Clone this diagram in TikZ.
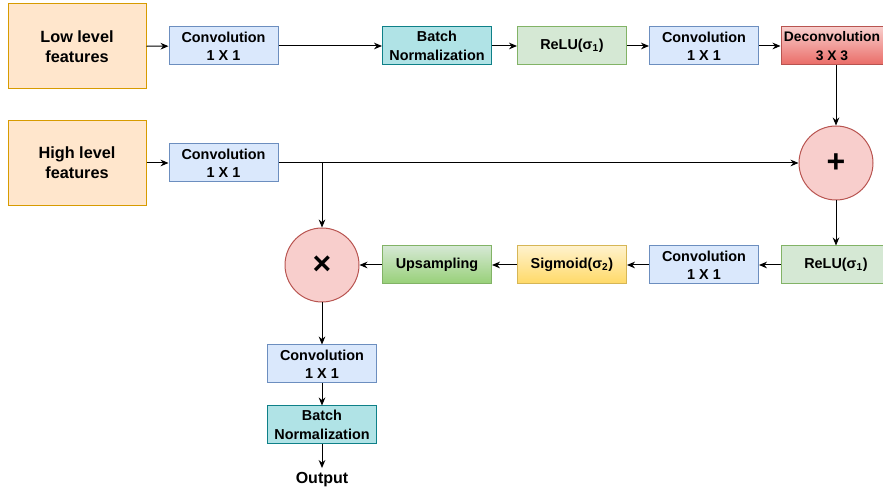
\documentclass[tikz,border=0pt]{standalone}
\usepackage{fontspec}
\setmainfont{Liberation Sans}
\usetikzlibrary{arrows.meta}
\definecolor{inFill}{HTML}{FFE6CC}
\definecolor{inLine}{HTML}{D79B00}
\definecolor{convFill}{HTML}{DAE8FC}
\definecolor{convLine}{HTML}{6C8EBF}
\definecolor{bnFill}{HTML}{B0E3E6}
\definecolor{bnLine}{HTML}{0E8088}
\definecolor{reluFill}{HTML}{D5E8D4}
\definecolor{reluLine}{HTML}{82B366}
\definecolor{upBot}{HTML}{97D077}
\definecolor{sgTop}{HTML}{FFF2CC}
\definecolor{sgBot}{HTML}{FFD966}
\definecolor{sgLine}{HTML}{D6B656}
\definecolor{redFill}{HTML}{F8CECC}
\definecolor{redBot}{HTML}{EA6B66}
\definecolor{redLine}{HTML}{B85450}

\begin{document}
\begin{tikzpicture}[
  x=0.75pt, y=0.75pt,
  blk/.style={minimum width=81.75pt, minimum height=28.5pt, inner sep=0pt,
    align=center, line width=0.75pt, font=\bfseries\fontsize{10.8}{13.8}\selectfont},
  feat/.style={blk, draw=inLine, fill=inFill, minimum width=103.5pt,
    minimum height=63.75pt, font=\bfseries\fontsize{12.2}{15}\selectfont},
  conv/.style={blk, draw=convLine, fill=convFill},
  bn/.style={blk, draw=bnLine, fill=bnFill},
  relu/.style={blk, draw=reluLine, fill=reluFill},
  up/.style={blk, draw=reluLine, top color=reluFill, bottom color=upBot},
  sg/.style={blk, draw=sgLine, top color=sgTop, bottom color=sgBot},
  dc/.style={blk, draw=redLine, top color=redFill, bottom color=redBot,
    minimum width=76.5pt, font=\bfseries\fontsize{10.4}{13.8}\selectfont},
  op/.style={circle, draw=redLine, fill=redFill, line width=0.75pt,
    minimum size=55.5pt, inner sep=0pt, font=\bfseries\fontsize{24}{24}\selectfont},
  arr/.style={-{Stealth[length=6pt, width=5pt]}, line width=0.75pt},
]
  \useasboundingbox (0,0) rectangle (883,491);

  \node[feat] (low) at (77,444.5) {Low level\\features};
  \node[conv] (convA) at (223.5,445) {Convolution\\1 X 1};
  \node[bn] (bnA) at (437,445) {Batch\\Normalization};
  \node[relu] (reluA) at (572,445) {ReLU(σ\textsubscript{1})};
  \node[conv] (convB) at (704,445) {Convolution\\1 X 1};
  \node[dc] (deconv) at (832,445) {Deconvolution\\3 X 3};

  \node[feat] (high) at (77,328) {High level\\features};
  \node[conv] (convC) at (223.5,328) {Convolution\\1 X 1};
  \node[op] (plus) at (836,328) {+};

  \node[op] (times) at (322,226) {×};
  \node[up] (ups) at (437,226) {Upsampling};
  \node[sg] (sigm) at (572,226) {Sigmoid(σ\textsubscript{2})};
  \node[conv] (convD) at (704,226) {Convolution\\1 X 1};
  \node[relu] (reluB) at (836,226) {ReLU(σ\textsubscript{1})};

  \node[conv] (convE) at (322,127) {Convolution\\1 X 1};
  \node[bn] (bnB) at (322,66) {Batch\\Normalization};
  \node[font=\bfseries\fontsize{12}{14}\selectfont] (out) at (322,11) {Output};

  \draw[arr] (low) -- (convA);
  \draw[arr] (convA) -- (bnA);
  \draw[arr] (bnA) -- (reluA);
  \draw[arr] (reluA) -- (convB);
  \draw[arr] (convB) -- (deconv);
  \draw[arr] (deconv.south -| plus) -- (plus);
  \draw[arr] (high) -- (convC);
  \draw[arr] (convC) -- (plus);
  \draw[arr] (convC -| times) -- (times);
  \draw[arr] (plus) -- (reluB);
  \draw[arr] (reluB) -- (convD);
  \draw[arr] (convD) -- (sigm);
  \draw[arr] (sigm) -- (ups);
  \draw[arr] (ups) -- (times);
  \draw[arr] (times) -- (convE);
  \draw[arr] (convE) -- (bnB);
  \draw[arr] (bnB) -- (out);
\end{tikzpicture}
\end{document}
